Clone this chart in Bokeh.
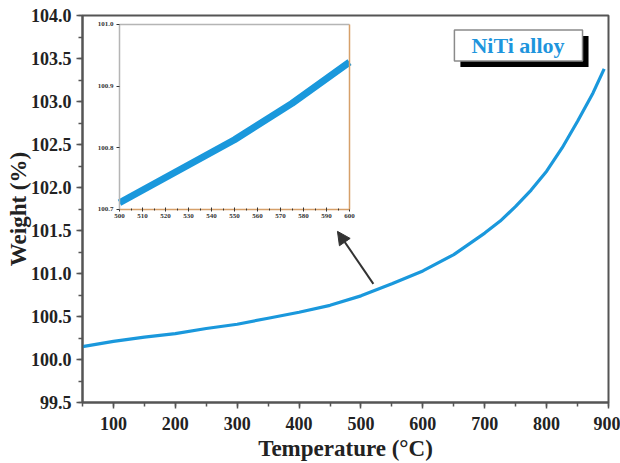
from bokeh.plotting import figure
from bokeh.models import (Range1d, LinearAxis, SingleIntervalTicker, FixedTicker,
                          NumeralTickFormatter, Arrow, NormalHead, Label)
from bokeh.embed import file_html
from bokeh.resources import INLINE

# ---- data ----
temperature = [50, 100, 150, 200, 250, 300, 350, 400, 450, 500, 550, 600,
               650, 700, 725, 750, 775, 800, 825, 850, 875, 893]
weight = [100.15, 100.21, 100.26, 100.30, 100.36, 100.41, 100.48, 100.55,
          100.63, 100.74, 100.88, 101.03, 101.22, 101.47, 101.61, 101.78,
          101.97, 102.19, 102.46, 102.77, 103.10, 103.38]

inset_temperature = [500, 525, 550, 575, 600]
inset_weight = [100.711, 100.762, 100.813, 100.872, 100.939]

inset_xticks = [500, 510, 520, 530, 540, 550, 560, 570, 580, 590, 600]
inset_yticks = [100.7, 100.8, 100.9, 101.0]
inset_xlim = (500, 600)
inset_ylim = (100.7, 101.0)

series_label = "NiTi alloy"
arrow_from = (520, 100.88)
arrow_to = (462, 101.49)

# ---- layout constants (pixels) ----
W, H = 620, 463
FL, FT, FR, FB = 82, 15, 608, 404          # main frame edges
IL, IT, IR, IB = 119, 24, 349, 210          # inset box inside page

FONT = "Liberation Serif"
BLUE = "#1a98dc"
AX = "#555555"

p = figure(width=W, height=H, output_backend="svg",
           toolbar_location=None, x_range=Range1d(50, 900),
           y_range=Range1d(99.5, 104.0),
           min_border_left=FL, min_border_top=FT,
           min_border_right=W - FR, min_border_bottom=H - FB)
p.background_fill_color = "white"
p.border_fill_color = "white"
p.grid.visible = False
p.outline_line_color = AX
p.outline_line_width = 2

# inset ranges mapped to a sub-box of the frame
sx = (inset_xlim[1] - inset_xlim[0]) / (IR - IL)
sy = (inset_ylim[1] - inset_ylim[0]) / (IB - IT)
p.extra_x_ranges = {"ix": Range1d(inset_xlim[0] - (IL - FL) * sx,
                                  inset_xlim[1] + (FR - IR) * sx)}
p.extra_y_ranges = {"iy": Range1d(inset_ylim[0] - (FB - IB) * sy,
                                  inset_ylim[1] + (IT - FT) * sy)}

# main axes
xa = p.xaxis[0]
ya = p.yaxis[0]
xa.ticker = SingleIntervalTicker(interval=100, num_minor_ticks=2)
ya.ticker = SingleIntervalTicker(interval=0.5, num_minor_ticks=2)
ya.formatter = NumeralTickFormatter(format="0.0")
for ax in (xa, ya):
    ax.axis_line_color = AX
    ax.axis_line_width = 2
    ax.major_tick_line_color = AX
    ax.minor_tick_line_color = AX
    ax.major_tick_line_width = 1.5
    ax.minor_tick_line_width = 1.5
    ax.major_tick_in = 0
    ax.major_tick_out = 6
    ax.minor_tick_in = 0
    ax.minor_tick_out = 4
    ax.major_label_text_font = FONT
    ax.major_label_text_font_style = "bold"
    ax.major_label_text_font_size = "18px"
    ax.major_label_text_color = "#222222"
    ax.axis_label_text_font = FONT
    ax.axis_label_text_font_style = "bold"
    ax.axis_label_text_font_size = "23px"
    ax.axis_label_text_color = "#222222"
xa.axis_label = "Temperature (°C)"
ya.axis_label = "Weight (%)"
xa.major_label_standoff = 8
xa.axis_label_standoff = 3
ya.major_label_standoff = 5
ya.axis_label_standoff = -3

# main curve
p.line(temperature, weight, line_color=BLUE, line_width=3.2)

# inset curve
p.line(inset_temperature, inset_weight, line_color=BLUE, line_width=7,
       x_range_name="ix", y_range_name="iy")

# inset axes
def inset_axis(side, loc, bounds, color, ticks, labels=True):
    a = LinearAxis(x_range_name="ix", y_range_name="iy", fixed_location=loc,
                   bounds=bounds, ticker=FixedTicker(ticks=ticks, minor_ticks=[]))
    a.axis_line_color = color
    a.axis_line_width = 1.5
    a.major_tick_line_color = "#333333"
    a.major_tick_line_width = 1
    a.major_tick_in = 2
    a.major_tick_out = 2
    a.major_label_standoff = 3
    a.major_label_text_font = FONT
    a.major_label_text_font_style = "bold"
    a.major_label_text_font_size = "7px"
    a.major_label_text_color = "#333333"
    if not labels:
        a.major_label_text_alpha = 0
    p.add_layout(a, side)
    return a

iyax = inset_axis("left", inset_xlim[0], inset_ylim, "#b5b5b5", inset_yticks)
iyax.formatter = NumeralTickFormatter(format="0.0")
iyax.major_tick_in = 0
iyax.major_tick_out = 3
ixax = inset_axis("below", inset_ylim[0], inset_xlim, "#d6a06a", inset_xticks)
ixax.ticker = FixedTicker(ticks=inset_xticks,
                          minor_ticks=[t + 5 for t in inset_xticks[:-1]])
ixax.minor_tick_line_color = "#333333"
ixax.minor_tick_in = 1
ixax.minor_tick_out = 1
inset_axis("above", inset_ylim[1], inset_xlim, "#b5b5b5", [], labels=False)
inset_axis("right", inset_xlim[1], inset_ylim, "#d6a06a", [], labels=False)

# arrow
p.add_layout(Arrow(end=NormalHead(size=13, fill_color="#333333",
                                  line_color="#333333"),
                   x_start=arrow_from[0], y_start=arrow_from[1],
                   x_end=arrow_to[0], y_end=arrow_to[1],
                   line_color="#333333", line_width=2))

# legend box with shadow
lx, ly = 651, 103.83
pad = (17, 18, 3, 3)
shadow = Label(x=lx, y=ly, text=series_label, x_offset=6, y_offset=-6,
               text_font=FONT, text_font_style="bold", text_font_size="22px",
               text_color="black", text_align="left", text_baseline="top",
               background_fill_color="black", padding=pad)
box = Label(x=lx, y=ly, text=series_label,
            text_font=FONT, text_font_style="bold", text_font_size="22px",
            text_color="#1e95dd", text_align="left", text_baseline="top",
            background_fill_color="white", border_line_color="#8a8a8a",
            border_line_width=1.5, padding=pad)
p.add_layout(shadow)
p.add_layout(box)

open("out.html", "w").write(file_html(p, INLINE))
